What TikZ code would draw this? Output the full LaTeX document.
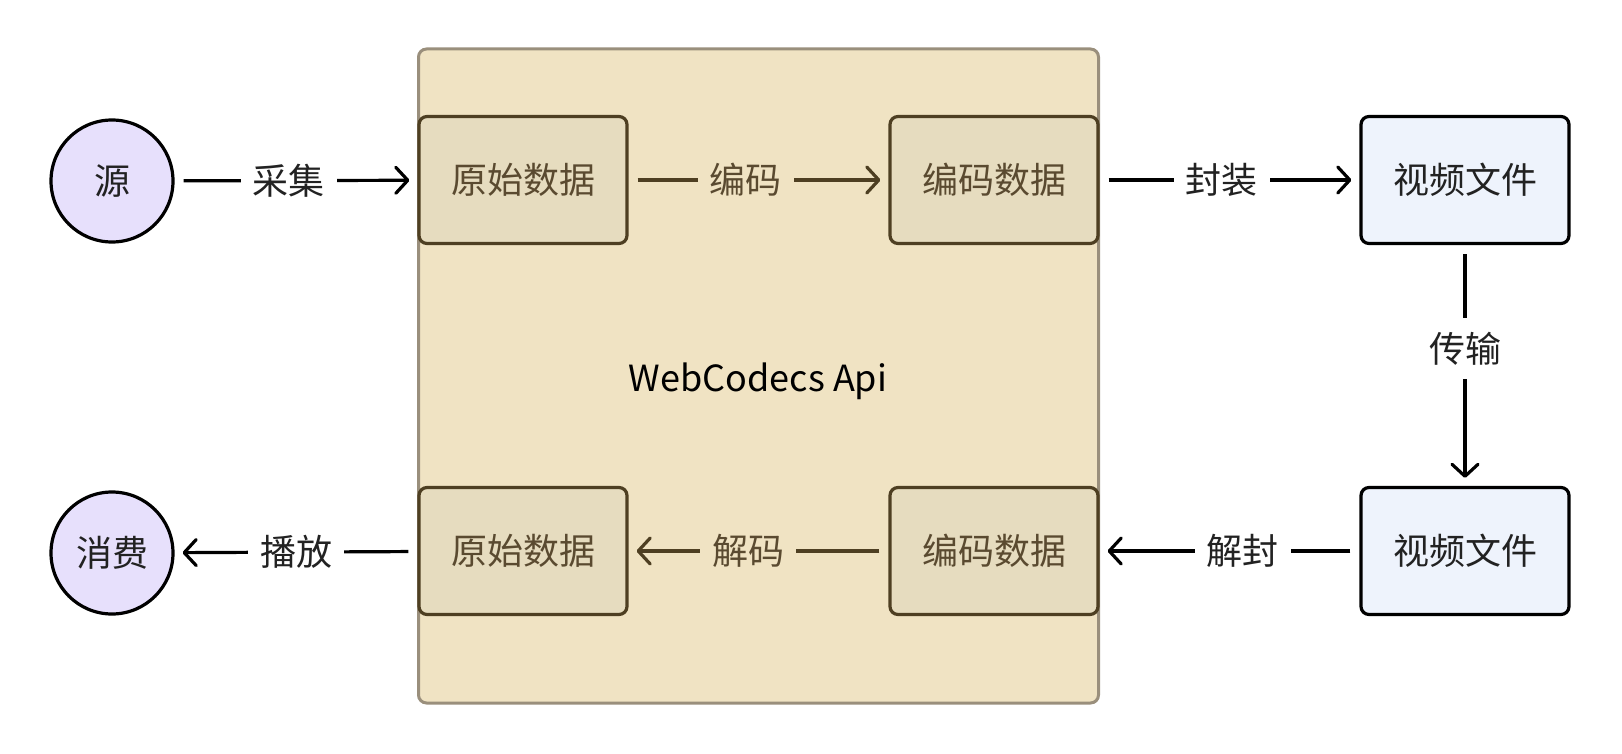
\documentclass[tikz,border=0pt]{standalone}
\usepackage{fontspec}
\setmainfont{Noto Sans CJK SC}
\usetikzlibrary{arrows.meta}
\definecolor{apifill}{HTML}{F0E3C3}
\definecolor{apiline}{HTML}{9A8F7C}
\definecolor{datafill}{HTML}{E6DCBF}
\definecolor{dataline}{HTML}{4E3F22}
\definecolor{datatext}{HTML}{5A4A30}
\definecolor{endfill}{HTML}{E7E0FC}
\definecolor{filefill}{HTML}{EEF3FC}
\definecolor{ink}{HTML}{222222}
\begin{document}
\begin{tikzpicture}[x=1pt,y=-1pt,>={Straight Barb[length=12pt,width=26pt,round]},
    font=\fontsize{36}{42}\selectfont]
    \tikzstyle{api}=[draw=apiline,fill=apifill,line width=3pt,rounded corners=8pt,
        minimum width=680pt,minimum height=654pt,text=ink]
    \tikzstyle{endpoint}=[draw=black,fill=endfill,circle,line width=3.2pt,
        minimum size=122pt,inner sep=0pt,text=ink]
    \tikzstyle{data}=[draw=dataline,fill=datafill,line width=3.2pt,rounded corners=8pt,
        minimum width=208pt,minimum height=127pt,text=datatext]
    \tikzstyle{file}=[draw=black,fill=filefill,line width=3.2pt,rounded corners=8pt,
        minimum width=208pt,minimum height=127pt,text=ink]
    \tikzstyle{flow}=[->,line width=3.2pt,draw=black,shorten >=8pt,shorten <=9pt]
    \tikzstyle{inflow}=[flow,draw=dataline]
    \tikzstyle{lbl}=[fill=white,text=ink,inner xsep=12pt,inner ysep=6pt]
    \tikzstyle{inlbl}=[lbl,fill=apifill,text=datatext]

    \useasboundingbox (0,0) rectangle (1622,754);

    \node[api] at (758.5,376) (api) {};
    \node at (758,381) (apiname) {WebCodecs Api};

    \node[endpoint] at (112,181) (src) {源};
    \node[data] at (523,180) (raw1) {原始数据};
    \node[data] at (994,180) (enc1) {编码数据};
    \node[file] at (1465,180) (file1) {视频文件};
    \node[file] at (1465,551) (file2) {视频文件};
    \node[data] at (994,551) (enc2) {编码数据};
    \node[data] at (523,551) (raw2) {原始数据};
    \node[endpoint] at (112,553) (sink) {消费};

    \draw (src) edge [flow] node [lbl, pos=0.47] {采集} (raw1);
    \draw (raw1) edge [inflow] node [inlbl, pos=0.45] {编码} (enc1);
    \draw (enc1) edge [flow] node [lbl, pos=0.47] {封装} (file1);
    \draw (file1) edge [flow] node [lbl, pos=0.43, inner xsep=6pt, inner ysep=14pt] {传输} (file2);
    \draw (file2) edge [flow] node [lbl, pos=0.45] {解封} (enc2);
    \draw (enc2) edge [inflow] node [inlbl, pos=0.54] {解码} (raw2);
    \draw (raw2) edge [flow] node [lbl] {播放} (sink);
\end{tikzpicture}
\end{document}
